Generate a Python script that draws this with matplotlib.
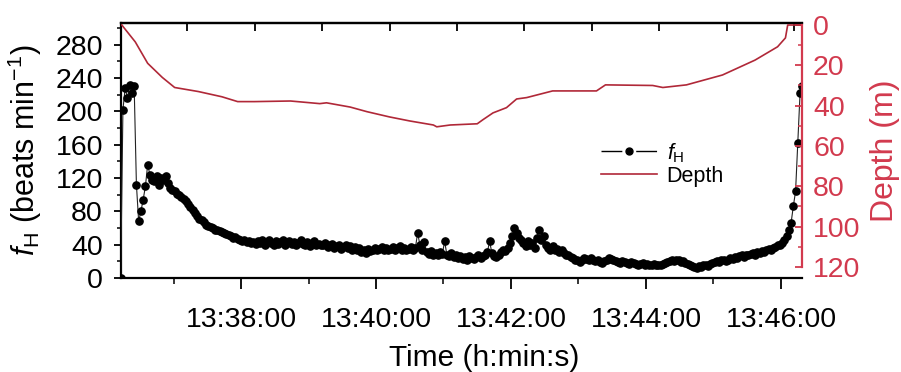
import matplotlib
matplotlib.use('Agg')
import matplotlib.pyplot as plt
from matplotlib.lines import Line2D
from matplotlib.ticker import MultipleLocator, FuncFormatter, NullFormatter
import numpy as np

plt.rcParams['font.family'] = ['Liberation Sans', 'DejaVu Sans']
plt.rcParams['mathtext.fontset'] = 'custom'
plt.rcParams['mathtext.rm'] = 'Liberation Sans'
plt.rcParams['mathtext.it'] = 'Liberation Sans:italic'

# heart rate, one reading every 2 s from 13:36:13
hr_start_sec = 13.0
hr_step_sec = 2.0
hr_bpm = [
    0, 202, 228, 216, 232, 222, 230, 112, 68, 80, 94, 110, 136, 124, 118,
    116, 122, 112, 120, 117, 122, 114, 108, 106, 104, 101, 99, 97, 95, 92,
    89, 85, 82, 78, 74, 71, 69, 67, 64, 62, 61, 60, 58, 57, 56,
    55, 54, 53, 51, 50, 48, 49, 47, 46, 44, 45, 43, 44, 42, 43,
    41, 44, 42, 45, 40, 43, 46, 42, 39, 44, 41, 43, 45, 40, 42,
    44, 41, 43, 39, 42, 45, 41, 40, 43, 38, 42, 44, 40, 41, 39,
    40, 42, 37, 39, 41, 36, 38, 40, 35, 37, 39, 36, 38, 34, 37,
    33, 36, 31, 34, 30, 35, 32, 34, 36, 33, 35, 37, 34, 36, 33,
    35, 37, 34, 36, 38, 33, 36, 34, 35, 37, 33, 36, 54, 40, 34,
    43, 31, 29, 32, 28, 30, 27, 31, 29, 44, 28, 26, 30, 25, 27,
    24, 26, 23, 25, 22, 26, 24, 23, 25, 27, 24, 26, 28, 31, 44,
    30, 26, 25, 28, 31, 34, 32, 36, 42, 50, 60, 54, 48, 46, 42,
    38, 44, 40, 42, 36, 48, 58, 46, 50, 40, 36, 34, 38, 33, 35,
    31, 33, 30, 28, 27, 25, 24, 22, 21, 19, 22, 24, 23, 21, 24,
    22, 20, 21, 19, 18, 20, 22, 24, 23, 21, 20, 19, 18, 20, 19,
    18, 17, 19, 18, 17, 16, 17, 18, 16, 17, 15, 16, 17, 16, 15,
    16, 17, 18, 19, 20, 21, 20, 22, 21, 19, 20, 18, 17, 16, 14,
    13, 12, 14, 13, 15, 16, 14, 17, 18, 19, 20, 19, 21, 22, 20,
    22, 24, 23, 25, 24, 26, 27, 25, 28, 27, 29, 30, 28, 31, 30,
    32, 31, 33, 35, 34, 36, 37, 39, 40, 42, 45, 50, 58, 66, 86,
    104, 162, 222, 230,
]

# dive depth (m) against seconds after 13:36:00
depth_sec = [14, 26, 37, 50, 61, 82, 103, 117, 132, 164, 190, 196, 217, 232,
             252, 270, 291, 294, 306, 330, 335, 344, 356, 365, 374, 397, 436,
             444, 486, 495, 516, 548, 577, 597, 604, 606, 619]
depth_m = [0, 8.4, 19, 26, 31, 33, 35.6, 38, 38, 37.7, 39, 38.6, 40.7, 43,
           45.6, 47.6, 49.6, 50.5, 49.6, 49, 47, 43.6, 41, 36.7, 36, 32.7, 32.7,
           29.7, 30, 31, 29.7, 24.8, 17.4, 10.8, 6.4, 0, 0]

hr_sec = hr_start_sec + hr_step_sec * np.arange(len(hr_bpm))

red_axis = '#d23a4e'
red_line = '#b02838'


def clock(v, pos):
    total = int(round(v)) + 13 * 3600 + 36 * 60
    h, rem = divmod(total, 3600)
    m, s = divmod(rem, 60)
    return '%d:%02d:%02d' % (h, m, s)


fig = plt.figure(figsize=(9.01, 3.72), dpi=100)
ax = fig.add_axes([0.1343, 0.2527, 0.7558, 0.6855])
ax2 = ax.twinx()

ax.plot(hr_sec, hr_bpm, color='#222222', lw=0.8, marker='o', ms=5.2,
        mfc='k', mec='k', zorder=3)
l2, = ax2.plot(depth_sec, depth_m, color=red_line, lw=1.2, label='Depth')

ax.set_xlim(13.3, 618.7)
ax.set_ylim(0, 306)
ax2.set_ylim(125.5, -1)

ax.xaxis.set_major_locator(MultipleLocator(120))
ax.xaxis.set_minor_locator(MultipleLocator(60))
ax.xaxis.set_major_formatter(FuncFormatter(clock))
ax.yaxis.set_major_locator(MultipleLocator(40))
ax.yaxis.set_minor_locator(MultipleLocator(20))
ax2.yaxis.set_major_locator(MultipleLocator(20))
ax2.yaxis.set_minor_locator(MultipleLocator(10))

ax.tick_params(axis='x', which='major', direction='out', length=8, width=1.3,
               labelsize=20.5, pad=13, top=False)
ax.tick_params(axis='x', which='minor', direction='out', length=4.5, width=1.1, top=False)
ax.tick_params(axis='y', which='major', direction='out', length=5, width=1.3,
               labelsize=20.5, pad=8, right=False)
ax.tick_params(axis='y', which='minor', direction='out', length=3, width=1.1, right=False)
ax2.tick_params(axis='y', which='major', direction='in', length=5, width=1.3,
                labelsize=20.5, pad=8, colors=red_axis)
ax2.tick_params(axis='y', which='minor', direction='in', length=3, width=1.1,
                colors=red_axis)

for side in ['left', 'top', 'bottom']:
    ax2.spines[side].set_visible(False)
ax.spines['right'].set_visible(False)
ax2.spines['right'].set_color(red_axis)
ax2.spines['right'].set_linewidth(1.6)
ax2.spines['right'].set_bounds(120, 0)
for side in ['left', 'top', 'bottom']:
    ax.spines[side].set_linewidth(1.6)

top = ax.secondary_xaxis('top', functions=(lambda x: x - 12, lambda x: x + 12))
top.xaxis.set_major_locator(MultipleLocator(60))
top.xaxis.set_major_formatter(NullFormatter())
top.tick_params(direction='in', length=6, width=1.3)
top.spines['top'].set_linewidth(1.6)

ax.set_xlabel('Time (h:min:s)', fontsize=21.5)
ax.xaxis.set_label_coords(0.533, -0.26)
ax.set_ylabel(r'$f_\mathrm{H}$ (beats min$^{-1}$)', fontsize=22)
ax.yaxis.set_label_coords(-0.113, 0.5)
ax2.set_ylabel('Depth (m)', fontsize=23, color=red_axis, rotation=90)
ax2.yaxis.set_label_coords(1.1, 0.5)

# legend entry drawn as dash - dot - dash like the original
hr_handle = Line2D([], [], color='k', lw=1.0, marker='o', ms=5,
                   dashes=(15, 10))
ax2.legend([hr_handle, l2], [r'$f_\mathrm{H}$', 'Depth'], loc='upper left',
           bbox_to_anchor=(0.655, 0.65), bbox_transform=fig.transFigure,
           frameon=False, fontsize=15.5, handlelength=2.6, handletextpad=0.45,
           labelspacing=0.05, borderpad=0)

fig.savefig('out.png', dpi=100)
